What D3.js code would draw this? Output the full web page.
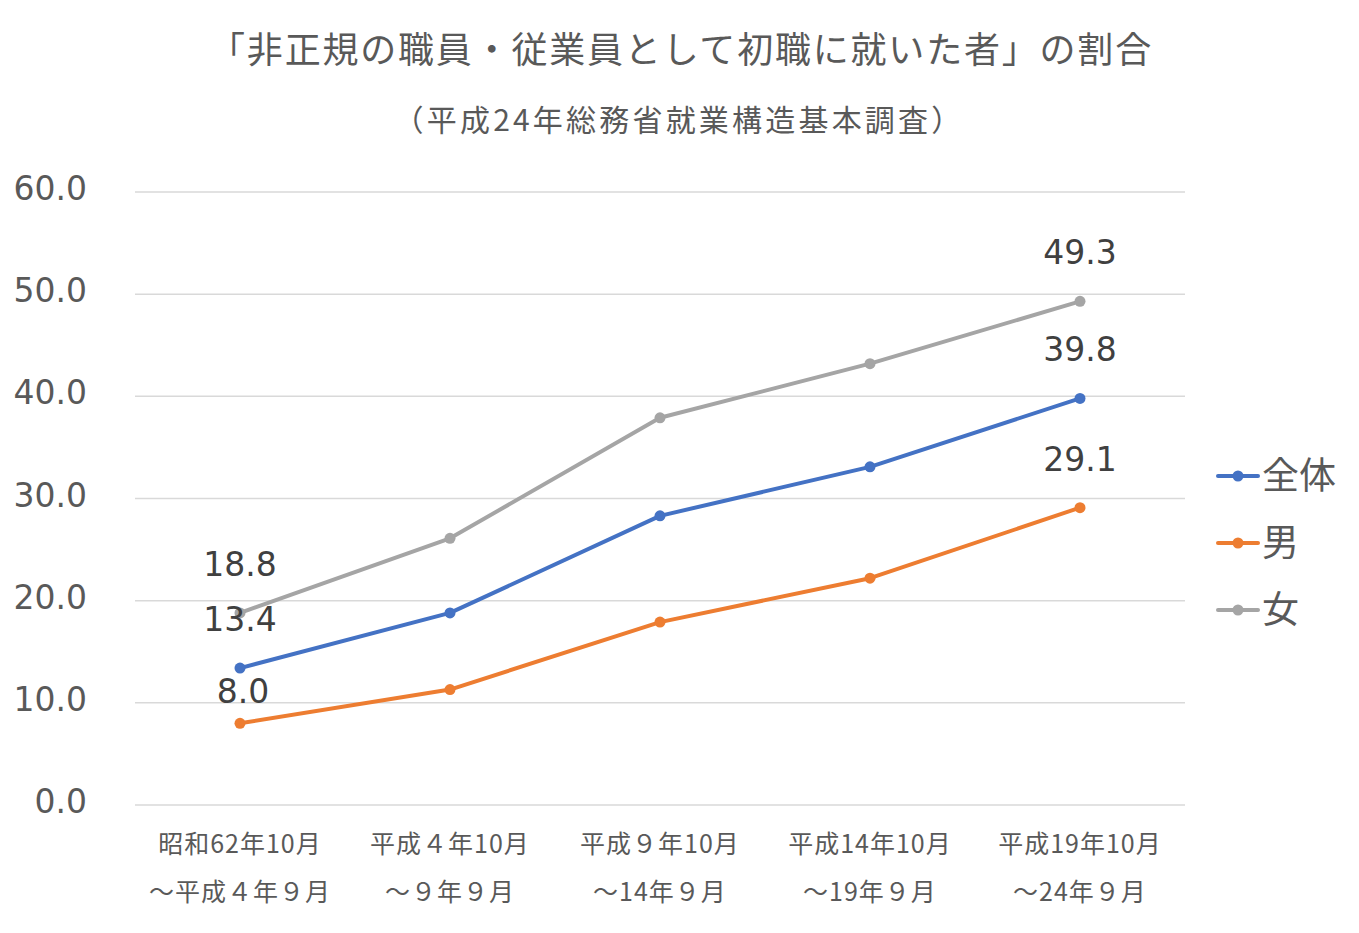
<!DOCTYPE html>
<html><head><meta charset="utf-8">
<script src="https://cdn.jsdelivr.net/npm/d3@7"></script>
<style>
body{margin:0;background:#fff;}
svg{display:block;}
</style></head>
<body>
<svg id="chart" width="1359" height="933"></svg>
<script>
const categoriesLine1 = ["昭和62年10月","平成４年10月","平成９年10月","平成14年10月","平成19年10月"];
const categoriesLine2 = ["～平成４年９月","～９年９月","～14年９月","～19年９月","～24年９月"];
const seriesNames = ["全体","男","女"];
const totalValues = [13.4, 18.8, 28.3, 33.1, 39.8];
const maleValues = [8.0, 11.3, 17.9, 22.2, 29.1];
const femaleValues = [18.8, 26.1, 37.9, 43.2, 49.3];
const yTicks = [0, 10, 20, 30, 40, 50, 60];
const colors = ["#4472C4", "#ED7D31", "#A5A5A5"];
const title = "「非正規の職員・従業員として初職に就いた者」の割合";
const subtitle = "（平成24年総務省就業構造基本調査）";

const series = [
  {name: seriesNames[0], values: totalValues, color: colors[0]},
  {name: seriesNames[1], values: maleValues, color: colors[1]},
  {name: seriesNames[2], values: femaleValues, color: colors[2]}
];

const svg = d3.select("#chart");
const font = "'Noto Sans CJK JP', 'DejaVu Sans', sans-serif";
const numFont = "'DejaVu Sans', 'Noto Sans CJK JP', sans-serif";

const x = d3.scaleBand().domain(d3.range(categoriesLine1.length)).range([135, 1185]);
const y = d3.scaleLinear().domain([0, 60]).range([805, 192]);
const cx = i => x(i) + x.bandwidth() / 2;

// title
svg.append("text").attr("x", 681).attr("y", 63).attr("text-anchor", "middle")
  .attr("font-family", font).attr("font-size", 36).attr("letter-spacing", 1.8)
  .attr("fill", "#595959").text(title);
svg.append("text").attr("x", 679).attr("y", 131).attr("text-anchor", "middle")
  .attr("font-family", font).attr("font-size", 30).attr("letter-spacing", 3.2)
  .attr("fill", "#595959").text(subtitle);

// gridlines
svg.append("g").selectAll("line").data(yTicks).join("line")
  .attr("x1", 135).attr("x2", 1185)
  .attr("y1", d => y(d)).attr("y2", d => y(d))
  .attr("stroke", "#D9D9D9").attr("stroke-width", 1.5);

// y axis labels
svg.append("g").selectAll("text").data(yTicks).join("text")
  .attr("x", 87).attr("y", d => y(d) + 8).attr("text-anchor", "end")
  .attr("font-family", numFont).attr("font-size", 33).attr("fill", "#595959")
  .text(d => d3.format(".1f")(d));

// x axis labels
const xl = svg.append("g");
xl.selectAll("text.l1").data(categoriesLine1).join("text").attr("class","l1")
  .attr("x", (d,i) => cx(i)).attr("y", 853).attr("text-anchor", "middle")
  .attr("font-family", font).attr("font-size", 25).attr("letter-spacing", 1)
  .attr("fill", "#595959").text(d => d);
xl.selectAll("text.l2").data(categoriesLine2).join("text").attr("class","l2")
  .attr("x", (d,i) => cx(i)).attr("y", 901).attr("text-anchor", "middle")
  .attr("font-family", font).attr("font-size", 25).attr("letter-spacing", 1)
  .attr("fill", "#595959").text(d => d);

// lines
const line = d3.line().x((d,i) => cx(i)).y(d => y(d));
series.forEach(s => {
  svg.append("path").datum(s.values).attr("d", line)
    .attr("fill", "none").attr("stroke", s.color).attr("stroke-width", 4)
    .attr("stroke-linejoin", "round").attr("stroke-linecap", "round");
  svg.append("g").selectAll("circle").data(s.values).join("circle")
    .attr("cx", (d,i) => cx(i)).attr("cy", d => y(d)).attr("r", 5.5).attr("fill", s.color);
});

// data labels (first and last)
const labelOffsets = {"全体": [-37, -37], "男": [-20, -37], "女": [-37, -37]};
series.forEach(s => {
  const last = s.values.length - 1;
  [0, last].forEach((i, k) => {
    svg.append("text").attr("x", cx(i) + (s.name === "男" && k === 0 ? 3 : 0))
      .attr("y", y(s.values[i]) + labelOffsets[s.name][k])
      .attr("text-anchor", "middle").attr("font-family", numFont)
      .attr("font-size", 33).attr("fill", "#404040")
      .text(d3.format(".1f")(s.values[i]));
  });
});

// legend
const lg = svg.append("g");
series.forEach((s, k) => {
  const ly = 476 + k * 67;
  lg.append("line").attr("x1", 1218).attr("x2", 1258).attr("y1", ly).attr("y2", ly)
    .attr("stroke", s.color).attr("stroke-width", 4).attr("stroke-linecap", "round");
  lg.append("circle").attr("cx", 1238).attr("cy", ly).attr("r", 5.5).attr("fill", s.color);
  lg.append("text").attr("x", 1262).attr("y", ly + 13).attr("font-family", font)
    .attr("font-size", 37).attr("fill", "#595959").text(s.name);
});
</script>
</body></html>
